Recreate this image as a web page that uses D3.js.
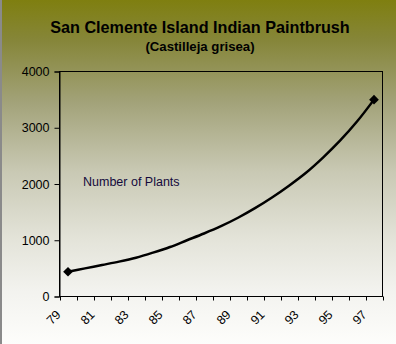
<!DOCTYPE html>
<html>
<head>
<meta charset="utf-8">
<script src="https://cdn.jsdelivr.net/npm/d3@7"></script>
<style>
  html, body { margin: 0; padding: 0; background: #fff; }
  svg { display: block; }
  text { font-family: "Liberation Sans", Arial, sans-serif; }
</style>
</head>
<body>
<div id="chart"></div>
<script>
// Survey years (two-digit) and estimated plant counts
const years = [79, 80, 81, 82, 83, 84, 85, 86, 87, 88, 89, 90, 91, 92, 93, 94, 95, 96, 97];
const plants = [440, 500, 560, 620, 690, 780, 880, 1000, 1120, 1250, 1400, 1570, 1760, 1970, 2200, 2470, 2770, 3110, 3500];
const yTicks = [0, 1000, 2000, 3000, 4000];
const xLabelYears = [79, 81, 83, 85, 87, 89, 91, 93, 95, 97];
const seriesName = "Number of Plants";
const titleText = "San Clemente Island Indian Paintbrush";
const subtitleText = "(Castilleja grisea)";

const W = 396, H = 344;
const plot = { left: 59.5, right: 382.5, top: 71.5, bottom: 296.5 };

const svg = d3.select("#chart").append("svg")
  .attr("width", W).attr("height", H);

// Olive-to-white background
const defs = svg.append("defs");
const grad = defs.append("linearGradient")
  .attr("id", "bg").attr("x1", 0).attr("y1", 0).attr("x2", 0).attr("y2", 1);
[[0, "#7f7f10"], [0.12, "#86863a"], [0.3, "#a3a37a"], [0.5, "#c9c9b4"], [0.7, "#e4e4da"], [0.85, "#f3f3ef"], [1, "#fdfdfb"]]
  .forEach(([o, c]) => grad.append("stop").attr("offset", o).attr("stop-color", c));

svg.append("rect").attr("width", W).attr("height", H).attr("fill", "url(#bg)");
svg.append("rect").attr("x", 0).attr("y", 0).attr("width", 2).attr("height", H).attr("fill", "#8a8a8a");

// Scales
const x = d3.scaleBand().domain(years).range([plot.left, plot.right]).paddingInner(0).paddingOuter(0);
const y = d3.scaleLinear().domain([0, 4000]).range([plot.bottom, plot.top]);

// Plot frame
svg.append("rect")
  .attr("x", plot.left).attr("y", plot.top)
  .attr("width", plot.right - plot.left).attr("height", plot.bottom - plot.top)
  .attr("fill", "none").attr("stroke", "#000").attr("stroke-width", 1);

// Y axis
const yAxis = svg.append("g")
  .attr("transform", `translate(${plot.left},0)`)
  .call(d3.axisLeft(y).tickValues(yTicks).tickSize(5).tickPadding(5).tickFormat(d3.format("d")));
yAxis.select(".domain").attr("stroke", "#000");
yAxis.selectAll(".tick line").attr("stroke", "#000");
yAxis.selectAll("text").attr("font-size", 12.5).attr("fill", "#000")
  .attr("font-family", "Liberation Sans, Arial, sans-serif");

// X axis: tick marks sit between categories
const xTickPos = years.map(d => x(d)).concat([x(years[years.length - 1]) + x.bandwidth()]);
const xAxis = svg.append("g");
xAxis.append("line")
  .attr("x1", plot.left).attr("x2", plot.right)
  .attr("y1", plot.bottom).attr("y2", plot.bottom)
  .attr("stroke", "#000");
xAxis.selectAll("line.tk").data(xTickPos).join("line").attr("class", "tk")
  .attr("x1", d => Math.round(d) + 0.5).attr("x2", d => Math.round(d) + 0.5)
  .attr("y1", plot.bottom).attr("y2", plot.bottom + 4)
  .attr("stroke", "#000");
xAxis.selectAll("text").data(xLabelYears).join("text")
  .attr("transform", d => `translate(${x(d) + x.bandwidth() / 2 - 6.5},${plot.bottom + 19}) rotate(-45)`)
  .attr("text-anchor", "end")
  .attr("font-size", 12.5)
  .attr("fill", "#000")
  .text(d => d);

// Series line
const pts = years.map((yr, i) => ({ yr, v: plants[i] }));
const line = d3.line()
  .x(d => x(d.yr) + x.bandwidth() / 2)
  .y(d => y(d.v))
  .curve(d3.curveCatmullRom.alpha(0.5));
svg.append("path").datum(pts)
  .attr("d", line)
  .attr("fill", "none").attr("stroke", "#000").attr("stroke-width", 2.5);

// Diamond markers on the first and last surveys
const ends = [pts[0], pts[pts.length - 1]];
svg.selectAll("path.mk").data(ends).join("path").attr("class", "mk")
  .attr("d", d3.symbol().type(d3.symbolDiamond2).size(60))
  .attr("transform", d => `translate(${x(d.yr) + x.bandwidth() / 2},${y(d.v)})`)
  .attr("fill", "#000");

// Series label
svg.append("text")
  .attr("x", 83).attr("y", 186)
  .attr("font-size", 12.5).attr("fill", "#140a3c")
  .text(seriesName);

// Titles
svg.append("text")
  .attr("x", 200).attr("y", 33)
  .attr("text-anchor", "middle")
  .attr("font-size", 16.2).attr("font-weight", "bold").attr("fill", "#000")
  .text(titleText);
svg.append("text")
  .attr("x", 200).attr("y", 51)
  .attr("text-anchor", "middle")
  .attr("font-size", 13.2).attr("font-weight", "bold").attr("fill", "#000")
  .text(subtitleText);
</script>
</body>
</html>
